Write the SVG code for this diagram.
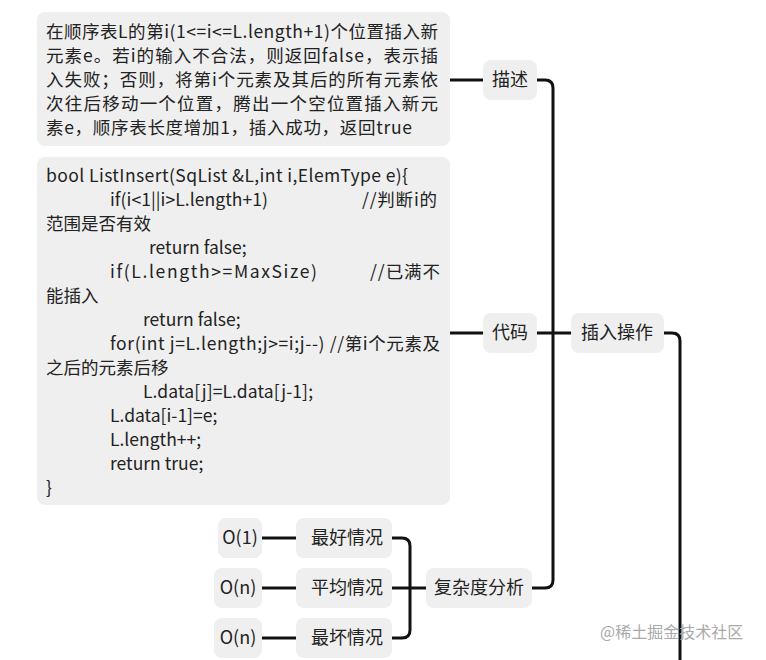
<svg xmlns="http://www.w3.org/2000/svg" width="766" height="660" viewBox="0 0 766 660">
<style>
.box{fill:#efefef}
.t{font-family:"Noto Sans CJK SC","Noto Sans",sans-serif;font-size:17.5px;fill:#222}
.n{font-family:"Noto Sans CJK SC","Noto Sans",sans-serif;font-size:18px;fill:#222;text-anchor:middle}
.c{fill:none;stroke:#111;stroke-width:3;stroke-linecap:round}
</style>
<rect width="766" height="660" fill="#fff"/>
<g id="connectors">
<path class="c" d="M450 80H483"/>
<path class="c" d="M450 333H483"/>
<path class="c" d="M537 80H545Q553 80 553 88V580Q553 588 545 588H532"/>
<path class="c" d="M537 333H571"/>
<path class="c" d="M664 333H672Q680 333 680 341V660"/>
<path class="c" d="M426 588H392"/>
<path class="c" d="M392 538H402Q410 538 410 546V630Q410 638 402 638H392"/>
<path class="c" d="M302 538H262"/>
<path class="c" d="M302 588H262"/>
<path class="c" d="M302 638H262"/>
</g>
<g id="desc">
<rect class="box" x="37" y="12" width="413" height="134" rx="8"/>
<text class="t" x="46" y="38" textLength="392">在顺序表L的第i(1&lt;=i&lt;=L.length+1)个位置插入新</text>
<text class="t" x="46" y="62" textLength="392">元素e。若i的输入不合法，则返回false，表示插</text>
<text class="t" x="46" y="86" textLength="392">入失败；否则，将第i个元素及其后的所有元素依</text>
<text class="t" x="46" y="110" textLength="392">次往后移动一个位置，腾出一个空位置插入新元</text>
<text class="t" x="46" y="134" textLength="366">素e，顺序表长度增加1，插入成功，返回true</text>
</g>
<g id="code">
<rect class="box" x="37" y="157" width="413" height="348" rx="8"/>
<text class="t" x="46" y="182" textLength="362">bool ListInsert(SqList &amp;L,int i,ElemType e){</text>
<text class="t" x="110" y="206" textLength="158">if(i&lt;1||i&gt;L.length+1)</text><text class="t" x="362" y="206" textLength="75">//判断i的</text>
<text class="t" x="46" y="230">范围是否有效</text>
<text class="t" x="149" y="254">return false;</text>
<text class="t" x="110" y="278" textLength="207">if(L.length&gt;=MaxSize)</text><text class="t" x="370" y="278" textLength="70">//已满不</text>
<text class="t" x="46" y="302">能插入</text>
<text class="t" x="143" y="326">return false;</text>
<text class="t" x="110" y="350" textLength="330">for(int j=L.length;j&gt;=i;j--) //第i个元素及</text>
<text class="t" x="46" y="374">之后的元素后移</text>
<text class="t" x="143" y="398" textLength="170">L.data[j]=L.data[j-1];</text>
<text class="t" x="110" y="422">L.data[i-1]=e;</text>
<text class="t" x="110" y="446">L.length++;</text>
<text class="t" x="110" y="470">return true;</text>
<text class="t" x="46" y="494">}</text>
</g>
<g id="n-miaoshu"><rect class="box" x="483" y="60" width="54" height="40" rx="8"/><text class="n" x="510" y="86">描述</text></g>
<g id="n-daima"><rect class="box" x="483" y="313" width="54" height="40" rx="8"/><text class="n" x="510" y="339">代码</text></g>
<g id="n-charu"><rect class="box" x="571" y="313" width="93" height="40" rx="8"/><text class="n" x="617" y="339">插入操作</text></g>
<g id="n-fuza"><rect class="box" x="426" y="568" width="106" height="40" rx="8"/><text class="n" x="479" y="594">复杂度分析</text></g>
<g id="n-best"><rect class="box" x="296" y="518" width="96" height="40" rx="8"/><text class="n" x="347" y="544">最好情况</text></g>
<g id="n-avg"><rect class="box" x="296" y="568" width="96" height="40" rx="8"/><text class="n" x="347" y="594">平均情况</text></g>
<g id="n-worst"><rect class="box" x="296" y="618" width="96" height="40" rx="8"/><text class="n" x="347" y="644">最坏情况</text></g>
<g id="n-o1"><rect class="box" x="218" y="518" width="44" height="40" rx="8"/><text class="n" x="240" y="544">O(1)</text></g>
<g id="n-on1"><rect class="box" x="214" y="568" width="48" height="40" rx="8"/><text class="n" x="238" y="594">O(n)</text></g>
<g id="n-on2"><rect class="box" x="214" y="618" width="48" height="40" rx="8"/><text class="n" x="238" y="644">O(n)</text></g>
<text x="600" y="638" font-family="Noto Sans CJK SC,sans-serif" font-size="16" fill="#aaa">@稀土掘金技术社区</text>
</svg>
